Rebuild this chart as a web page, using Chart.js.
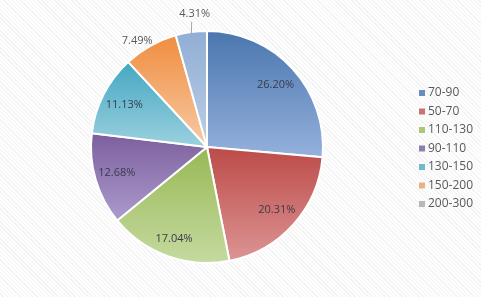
<!DOCTYPE html>
<html>
<head>
<meta charset="utf-8">
<script src="https://cdn.jsdelivr.net/npm/chart.js@4"></script>
<style>
  html, body { margin: 0; padding: 0; }
  body {
    width: 481px; height: 297px; overflow: hidden;
    background: repeating-linear-gradient(45deg, #fefefe 0px, #fefefe 2px, #f3f3f3 2px, #f3f3f3 3px);
  }
  #wrap { position: relative; width: 481px; height: 297px; }
</style>
</head>
<body>
<div id="wrap"><canvas id="pie" width="481" height="297"></canvas></div>
<script>
// data
const labels = ['70-90', '50-70', '110-130', '90-110', '130-150', '150-200', '200-300'];
const shares = [26.20, 20.31, 17.04, 12.68, 11.13, 7.49, 4.31];
const topColors = ['#4a76ae', '#bc4b48', '#98b856', '#7c5f9e', '#45a7c2', '#f08d3f', '#90aed4'];
const bottomColors = ['#95b1dc', '#dc9494', '#c5da9f', '#ab9bcb', '#9bd1df', '#f7cba6', '#bccee6'];
const legendColors = ['#6a8cbf', '#c87472', '#aac77a', '#8f7fae', '#74b9c9', '#e8b37e', '#b8b8b8'];

// how far out each label sits (fraction of radius) and a small nudge, Excel "best fit" look
const labelRadius = [0.8, 0.81, 0.84, 0.81, 0.8, 1.09, 1.16];
const labelNudge = [[0, 0], [0, 0], [0, 0], [0, 0], [0, 0], [-8, 4], [6, 0]];

const gradientPlugin = {
  id: 'sliceGradient',
  beforeDatasetsDraw(chart) {
    const ctx = chart.ctx;
    const meta = chart.getDatasetMeta(0);
    meta.data.forEach(function (arc, i) {
      const r = arc.outerRadius;
      // vertical extent of the slice
      let ys = [arc.y];
      for (let k = 0; k <= 40; k++) {
        const a = arc.startAngle + (arc.endAngle - arc.startAngle) * k / 40;
        ys.push(arc.y + Math.sin(a) * r);
      }
      const y0 = Math.min(...ys), y1 = Math.max(...ys);
      const g = ctx.createLinearGradient(0, y0, 0, y1);
      g.addColorStop(0, topColors[i]);
      g.addColorStop(1, bottomColors[i]);
      arc.options.backgroundColor = g;
    });
  }
};

const labelPlugin = {
  id: 'sliceLabels',
  afterDatasetsDraw(chart) {
    const ctx = chart.ctx;
    const meta = chart.getDatasetMeta(0);
    ctx.save();
    ctx.font = '11px "Open Sans", "DejaVu Sans", sans-serif';
    ctx.textAlign = 'center';
    ctx.textBaseline = 'middle';
    meta.data.forEach(function (arc, i) {
      const mid = (arc.startAngle + arc.endAngle) / 2;
      const rr = arc.outerRadius * labelRadius[i];
      const x = arc.x + Math.cos(mid) * rr + labelNudge[i][0];
      const y = arc.y + Math.sin(mid) * rr + labelNudge[i][1];
      if (labelRadius[i] > 1.12) {
        // leader line
        ctx.strokeStyle = '#a6a6a6';
        ctx.lineWidth = 1;
        ctx.beginPath();
        ctx.moveTo(arc.x + Math.cos(mid) * arc.outerRadius * 0.99, arc.y + Math.sin(mid) * arc.outerRadius * 0.99);
        ctx.lineTo(x - 3, y + 8);
        ctx.stroke();
      }
      ctx.fillStyle = labelRadius[i] > 1 ? '#595959' : '#3a3a4a';
      ctx.fillText(shares[i].toFixed(2) + '%', x, y);
    });

    // legend on the right
    ctx.font = '12px "Open Sans", "DejaVu Sans", sans-serif';
    ctx.textAlign = 'left';
    ctx.textBaseline = 'middle';
    const step = 18.5;
    const startY = 93;
    labels.forEach(function (lab, i) {
      const y = startY + i * step;
      ctx.fillStyle = legendColors[i];
      ctx.fillRect(419, y - 3, 6, 6);
      ctx.fillStyle = '#595959';
      ctx.fillText(lab, 428, y);
    });
    ctx.restore();
  }
};

new Chart(document.getElementById('pie'), {
  type: 'pie',
  data: {
    labels: labels,
    datasets: [{
      data: shares,
      backgroundColor: topColors,
      borderColor: '#ffffff',
      borderWidth: 2,
      hoverOffset: 0
    }]
  },
  options: {
    responsive: false,
    animation: false,
    devicePixelRatio: 1,
    layout: { padding: { left: 89, right: 156, top: 30, bottom: 33 } },
    plugins: {
      legend: { display: false },
      tooltip: { enabled: false }
    }
  },
  plugins: [gradientPlugin, labelPlugin]
});
</script>
</body>
</html>
